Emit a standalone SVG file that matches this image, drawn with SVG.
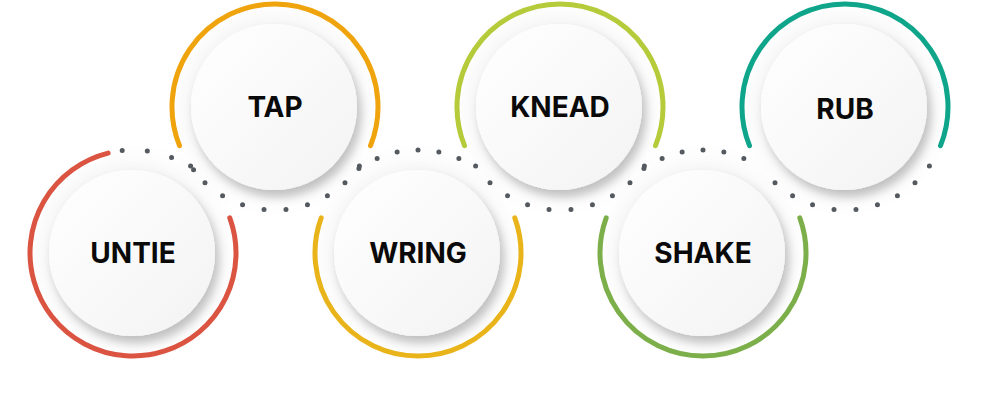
<svg xmlns="http://www.w3.org/2000/svg" width="1000" height="400" viewBox="0 0 1000 400">
<style>
.ring{fill:none;stroke-width:5;stroke-linecap:round}
.dots{fill:none;stroke:#555a60;stroke-width:5;stroke-linecap:round;stroke-dasharray:0 1}
.disc{fill:url(#g);filter:url(#sh)}
.lbl{font-family:Inter,"Liberation Sans",sans-serif;font-weight:700;font-size:28px;fill:#0a0a0a;text-anchor:middle}
</style>
<defs>
<linearGradient id="g" x1="0" y1="0" x2="1" y2="1"><stop offset="0" stop-color="#ffffff"/><stop offset="1" stop-color="#f3f3f3"/></linearGradient>
<filter id="sh" x="-40%" y="-40%" width="190%" height="190%">
<feDropShadow dx="0" dy="0" stdDeviation="14" flood-color="#000" flood-opacity="0.08"/>
<feDropShadow dx="4" dy="7" stdDeviation="5" flood-color="#000" flood-opacity="0.22"/>
</filter>
</defs>
<g id="connectors">
<path class="dots" pathLength="4" d="M122.2,150.6 A103,103 0 0 1 211.9,186.8"/>
<path class="dots" pathLength="9" d="M359.4,166.1 A103,103 0 0 1 190.6,166.1"/>
<path class="dots" pathLength="6" d="M358.9,168.6 A103,103 0 0 1 477.1,168.6"/>
<path class="dots" pathLength="9" d="M644.4,166.1 A103,103 0 0 1 475.6,166.1"/>
<path class="dots" pathLength="6" d="M643.9,168.6 A103,103 0 0 1 762.1,168.6"/>
<path class="dots" pathLength="9" d="M929.4,166.1 A103,103 0 0 1 760.6,166.1"/>
</g>
<g id="untie">
<path class="ring" stroke="#dc5442" d="M108.1,153.1 A103,103 0 1 0 229.8,217.8"/>
<circle class="disc" cx="132" cy="253" r="83"/>
<text class="lbl" x="133" y="263">UNTIE</text>
</g>
<g id="tap">
<path class="ring" stroke="#f0a40c" d="M179.5,145.6 A103,103 0 1 1 370.5,145.6"/>
<circle class="disc" cx="274" cy="107" r="83"/>
<text class="lbl" x="275" y="117">TAP</text>
</g>
<g id="wring">
<path class="ring" stroke="#eab51a" d="M321.2,217.8 A103,103 0 1 0 514.8,217.8"/>
<circle class="disc" cx="417" cy="253" r="83"/>
<text class="lbl" x="418" y="263">WRING</text>
</g>
<g id="knead">
<path class="ring" stroke="#b6cc3a" d="M464.5,145.6 A103,103 0 1 1 655.5,145.6"/>
<circle class="disc" cx="559" cy="107" r="83"/>
<text class="lbl" x="560" y="117">KNEAD</text>
</g>
<g id="shake">
<path class="ring" stroke="#7cb04a" d="M606.2,217.8 A103,103 0 1 0 799.8,217.8"/>
<circle class="disc" cx="702" cy="253" r="83"/>
<text class="lbl" x="703" y="263">SHAKE</text>
</g>
<g id="rub">
<path class="ring" stroke="#0ea68c" d="M749.5,145.6 A103,103 0 1 1 940.5,145.6"/>
<circle class="disc" cx="844" cy="107" r="83"/>
<text class="lbl" x="845" y="119">RUB</text>
</g>
</svg>
